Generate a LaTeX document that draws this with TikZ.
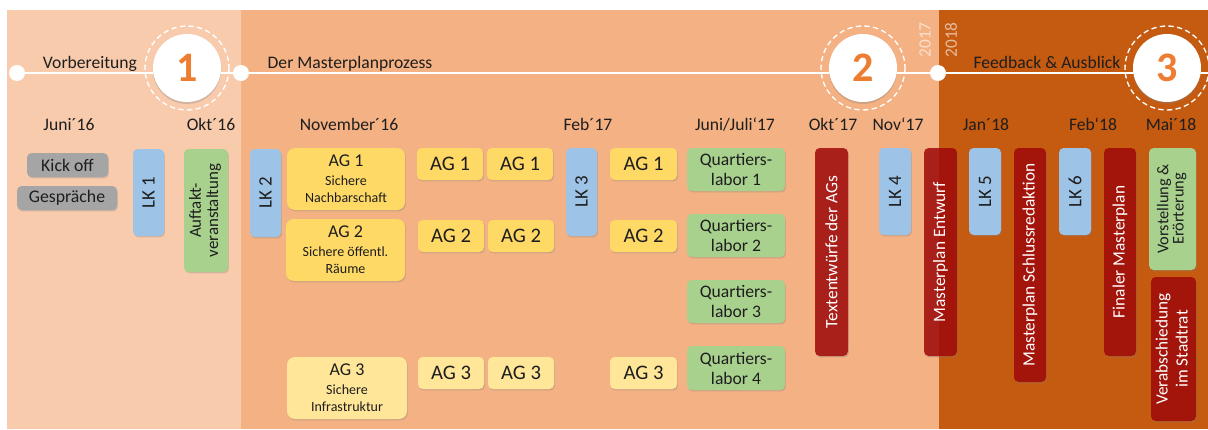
\documentclass[tikz,border=0pt]{standalone}
\usepackage{fontspec}
\setmainfont{Carlito}
\usetikzlibrary{shadows}
\definecolor{pLeft}{HTML}{F8CBAD}
\definecolor{pMid}{HTML}{F4B183}
\definecolor{pRight}{HTML}{C55A11}
\definecolor{cGray}{HTML}{A5A5A5}
\definecolor{cBlue}{HTML}{9DC3E6}
\definecolor{cGreen}{HTML}{A9D18E}
\definecolor{cYel}{HTML}{FFD966}
\definecolor{cYelL}{HTML}{FFE699}
\definecolor{cRed}{HTML}{A00000}
\definecolor{cOrange}{HTML}{ED7D31}
\definecolor{cText}{HTML}{1E1E1E}
\newcommand\fs[2]{\fontsize{#1pt}{#2pt}\selectfont}
\newcommand\bx[7]{\node[#1, minimum width={(#5-#3)*0.75pt}, minimum height={(#6-#4)*0.75pt}] (#2) at ({(#3+#5)/2},{(#4+#6)/2}) {#7};}
\newcommand\rot[1]{\rotatebox{90}{#1}}
\newcommand\rottwo[2]{\rotatebox{90}{\begin{tabular}{@{}c@{}}#1\\#2\end{tabular}}}
\tikzset{
  box/.style={rectangle, rounded corners=3.5pt, inner sep=0pt, align=center, text=cText,
    drop shadow={opacity=0.3, shadow xshift=0.7pt, shadow yshift=-1.1pt}},
  gbox/.style={box, fill=cGray, font=\fs{13.3}{16}},
  lkbox/.style={box, fill=cBlue, font=\fs{14.2}{16}},
  grbox/.style={box, fill=cGreen, font=\fs{13.2}{15}},
  agbox/.style={box, fill=cYel, font=\fs{15.5}{18}},
  aglbox/.style={box, fill=cYelL, font=\fs{15.5}{18}},
  agbig/.style={box, rounded corners=6pt, font=\fs{10.5}{12.75}},
  rbox/.style={box, fill=cRed, fill opacity=0.8, text opacity=1, text=white, font=\fs{13}{15}},
  lbl/.style={anchor=base, inner sep=0pt, text=cText, font=\fs{13.2}{16}},
  tline/.style={white, line width=1.5pt},
  dot/.style={circle, fill=white, inner sep=0pt, minimum size=12pt},
  numc/.style={circle, fill=white, inner sep=0pt, minimum size=51pt, text=cOrange,
    font=\bfseries\fs{31.5}{32}, drop shadow={opacity=0.3, shadow xshift=0pt, shadow yshift=-1.5pt}},
  ring/.style={white, line width=1pt, dash pattern=on 4pt off 2.5pt},
  yr/.style={rotate=90, inner sep=0pt, text=white, text opacity=0.6, font=\fs{13}{15}},
}
\begin{document}
\begin{tikzpicture}[x=0.75pt,y=-0.75pt]
\useasboundingbox (0,0) rectangle (1208,429);
\fill[white] (0,0) rectangle (1208,429);
\fill[pLeft] (7,10) rectangle (241,429);
\fill[pMid] (241,10) rectangle (939,429);
\fill[pRight] (939,10) rectangle (1208,429);

% timeline
\coordinate (tl0) at (17,73);
\coordinate (tlEnd) at (1208,73);
\draw[tline] (tl0) -- (tlEnd);
\node[dot] (d1) at (17,73) {};
\node[dot] (d2) at (241,73) {};
\node[dot] (d3) at (938,73) {};

\node[numc] (c1) at (187,68) {1};
\node[numc] (c2) at (863,68) {2};
\node[numc] (c3) at (1167,68) {3};
\draw[ring] (c1.center) circle[radius=42];
\draw[ring] (c2.center) circle[radius=42];
\draw[ring] (c3.center) circle[radius=42];

\node[yr] (y17) at (925,40) {2017};
\node[yr] (y18) at (951,40) {2018};

\node[lbl] (hVor) at (90,68) {Vorbereitung};
\node[lbl] (hMp) at (350,68) {Der Masterplanprozess};
\node[lbl] (hFb) at (1047,68) {Feedback \& Ausblick};

% dates
\node[lbl] (t1) at (69,130) {Juni´16};
\node[lbl] (t2) at (211,130) {Okt´16};
\node[lbl] (t3) at (349,130) {November´16};
\node[lbl] (t4) at (588,130) {Feb´17};
\node[lbl] (t5) at (735,130) {Juni/Juli‘17};
\node[lbl] (t6) at (833,130) {Okt´17};
\node[lbl] (t7) at (898,130) {Nov‘17};
\node[lbl] (t8) at (986,130) {Jan´18};
\node[lbl] (t9) at (1093,130) {Feb‘18};
\node[lbl] (t10) at (1171,130) {Mai´18};

% gray
\bx{gbox}{kick}{27}{153}{108}{177}{Kick off}
\bx{gbox}{gesp}{17}{186}{117}{210}{Gespräche}

% blue
\bx{lkbox}{lk1}{133}{149}{164}{236}{\rot{LK 1}}
\bx{lkbox}{lk2}{250}{149}{281}{237}{\rot{LK 2}}
\bx{lkbox}{lk3}{566}{148}{597}{236}{\rot{LK 3}}
\bx{lkbox}{lk4}{879}{148}{911}{235}{\rot{LK 4}}
\bx{lkbox}{lk5}{969}{148}{1001}{235}{\rot{LK 5}}
\bx{lkbox}{lk6}{1059}{148}{1091}{235}{\rot{LK 6}}

% green
\bx{grbox, font=\fs{12.7}{13}}{auft}{184}{149}{228}{272}{\rottwo{Auftakt-}{veranstaltung}}
\bx{grbox}{q1}{687}{148}{785}{191}{Quartiers-\\labor 1}
\bx{grbox}{q2}{687}{214}{785}{257}{Quartiers-\\labor 2}
\bx{grbox}{q3}{687}{280}{785}{323}{Quartiers-\\labor 3}
\bx{grbox}{q4}{687}{346}{785}{390}{Quartiers-\\labor 4}
\bx{grbox, font=\fs{12.3}{10.8}}{vorst}{1149}{148}{1196}{270}{\rottwo{Vorstellung \&}{Erörterung}}

% yellow
\bx{agbig, fill=cYel}{ag1}{287}{148}{405}{210}{{\fs{13.5}{14}AG 1}\\[1.5pt]Sichere\\Nachbarschaft}
\bx{agbig, fill=cYel}{ag2}{286}{219}{405}{281}{{\fs{13.5}{14}AG 2}\\[1.5pt]Sichere öffentl.\\Räume}
\bx{agbig, fill=cYelL}{ag3}{287}{357}{407}{419}{{\fs{13.5}{14}AG 3}\\[1.5pt]Sichere\\Infrastruktur}
\bx{agbox}{a1a}{417}{148}{483}{180}{AG 1}
\bx{agbox}{a1b}{487}{148}{553}{180}{AG 1}
\bx{agbox}{a1c}{610}{148}{677}{180}{AG 1}
\bx{agbox}{a2a}{418}{220}{484}{252}{AG 2}
\bx{agbox}{a2b}{488}{220}{554}{252}{AG 2}
\bx{agbox}{a2c}{610}{220}{677}{252}{AG 2}
\bx{aglbox}{a3a}{418}{357}{484}{389}{AG 3}
\bx{aglbox}{a3b}{488}{357}{554}{389}{AG 3}
\bx{aglbox}{a3c}{610}{357}{677}{389}{AG 3}

% red
\bx{rbox}{txt}{815}{148}{848}{356}{\rot{Textentwürfe der AGs}}
\bx{rbox}{mpe}{924}{148}{957}{356}{\rot{Masterplan Entwurf}}
\bx{rbox}{msr}{1014}{148}{1046}{382}{\rot{Masterplan Schlussredaktion}}
\bx{rbox}{fin}{1104}{148}{1136}{356}{\rot{Finaler Masterplan}}
\bx{rbox, font=\fs{12.9}{15}}{verab}{1151}{277}{1196}{421}{\rottwo{Verabschiedung}{im Stadtrat}}
\end{tikzpicture}
\end{document}
